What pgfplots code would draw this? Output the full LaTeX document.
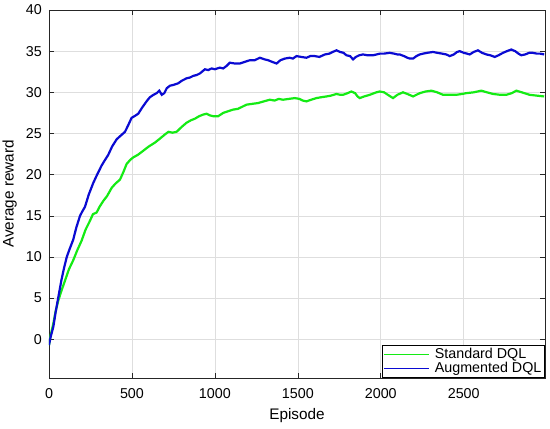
\documentclass[border=0pt]{standalone}
\usepackage{pgfplots}
\pgfplotsset{compat=1.18}
\usepackage{fontspec}
\setmainfont{Liberation Sans}
\definecolor{cgreen}{RGB}{20,235,20}
\definecolor{cblue}{RGB}{10,10,210}
\definecolor{axgray}{RGB}{38,38,38}
\begin{document}
\begin{tikzpicture}
\begin{axis}[
  name=ax,
  scale only axis,
  width=496bp, height=368bp,
  xmin=0, xmax=2990, ymin=-4.7, ymax=40,
  xtick={0,500,1000,1500,2000,2500},
  ytick={0,5,10,15,20,25,30,35,40},
  xtick pos=both, ytick pos=both,
  tick align=inside,
  major tick length=5bp,
  grid=major,
  grid style={color=black!13, line width=0.6bp},
  axis line style={color=axgray, line width=0.8bp},
  tick style={color=axgray, line width=0.6bp},
  /pgf/number format/assume math mode=true,
  /pgf/number format/1000 sep={},
  ticklabel style={font=\fontsize{14.3bp}{17bp}\selectfont, text=black},
  xticklabel style={inner sep=0pt, anchor=north, yshift=-10bp},
  yticklabel style={inner sep=0pt, anchor=east, xshift=-7bp},
  xlabel={Episode},
  ylabel={Average reward},
  label style={font=\fontsize{15.3bp}{18bp}\selectfont},
  xlabel style={at={(axis description cs:0.5,0)}, anchor=north, inner sep=0pt, yshift=-30bp},
  ylabel style={at={(axis description cs:-0.0645,0.5)}, anchor=south, inner sep=0pt},
  legend style={at={(1,0)}, anchor=south east, draw=black, line width=0.6bp,
    font=\fontsize{14.3bp}{17bp}\selectfont, inner sep=1.5bp, row sep=-1.5bp,
    nodes={inner sep=1.8bp}},
  legend cell align=left,
  legend image code/.code={\draw[#1, line width=1.1bp] (0bp,0bp) -- (45bp,0bp); \path (48bp,0bp);},
]
\addplot[cgreen, line width=2.2bp] coordinates {
(0,-0.7) (10,0.5) (26,1.9) (40,3.4) (56,4.7) (75,5.9) (96,7.1) (120,8.5) (146,9.6) (170,10.8)
(197,12.0) (220,13.3) (247,14.4) (265,15.2) (287,15.4) (305,16.1) (327,16.8) (350,17.4) (378,18.4) (400,18.9)
(428,19.4) (448,20.3) (468,21.3) (490,21.8) (508,22.1) (535,22.4) (568,22.9) (600,23.4) (639,23.9) (670,24.4)
(700,24.9) (720,25.2) (745,25.1) (769,25.2) (800,25.8) (829,26.3) (855,26.6) (880,26.8) (905,27.1) (930,27.3)
(950,27.4) (970,27.2) (990,27.1) (1020,27.1) (1050,27.5) (1080,27.7) (1110,27.9) (1140,28.0) (1170,28.3) (1191,28.5)
(1225,28.6) (1261,28.7) (1295,28.9) (1331,29.1) (1360,29.0) (1385,29.2) (1411,29.1) (1445,29.2) (1482,29.3) (1510,29.2)
(1530,29.0) (1552,28.9) (1580,29.1) (1612,29.3) (1640,29.4) (1673,29.5) (1700,29.6) (1733,29.8) (1755,29.7) (1773,29.7)
(1800,29.9) (1823,30.1) (1845,29.9) (1860,29.5) (1873,29.3) (1900,29.5) (1934,29.7) (1960,29.9) (1974,30.0) (1994,30.1)
(2020,30.0) (2050,29.6) (2074,29.3) (2100,29.7) (2134,30.0) (2160,29.8) (2195,29.5) (2215,29.7) (2235,29.9) (2270,30.1)
(2305,30.2) (2340,30.0) (2375,29.7) (2410,29.7) (2456,29.7) (2490,29.8) (2516,29.9) (2560,30.0) (2606,30.2) (2640,30.0)
(2677,29.8) (2720,29.7) (2757,29.7) (2790,29.9) (2817,30.2) (2850,30.0) (2897,29.7) (2940,29.6) (2985,29.5)
};
\addlegendentry{Standard DQL}
\addplot[cblue, line width=2.2bp] coordinates {
(0,-0.7) (10,0.3) (26,1.5) (40,3.3) (56,5.1) (75,7.2) (90,8.6) (107,10.0) (125,11.0) (146,12.1)
(165,13.6) (187,15.0) (200,15.5) (217,16.1) (240,17.6) (267,19.0) (290,20.0) (317,21.1) (335,21.7) (357,22.4)
(380,23.4) (408,24.3) (430,24.7) (458,25.2) (475,25.9) (498,26.9) (515,27.1) (538,27.4) (560,28.1) (588,28.9)
(608,29.4) (630,29.7) (649,29.9) (665,30.2) (680,29.7) (695,29.9) (710,30.5) (729,30.8) (750,30.9) (779,31.1)
(800,31.4) (829,31.7) (850,31.8) (870,32.0) (890,32.1) (910,32.3) (940,32.8) (960,32.7) (980,32.9) (1000,32.8)
(1030,33.0) (1050,32.9) (1070,33.2) (1090,33.6) (1120,33.5) (1151,33.5) (1180,33.7) (1211,33.9) (1240,33.9) (1271,34.2)
(1300,34.0) (1321,33.9) (1345,33.7) (1372,33.5) (1395,33.9) (1422,34.1) (1450,34.2) (1470,34.1) (1492,34.4) (1520,34.3)
(1552,34.2) (1575,34.4) (1602,34.4) (1630,34.3) (1663,34.6) (1690,34.7) (1710,34.9) (1733,35.1) (1755,34.9) (1775,34.8)
(1793,34.5) (1815,34.4) (1833,34.0) (1850,34.3) (1870,34.5) (1893,34.6) (1920,34.5) (1953,34.5) (1975,34.6) (1994,34.7)
(2020,34.7) (2054,34.8) (2080,34.7) (2100,34.6) (2114,34.6) (2140,34.4) (2160,34.2) (2175,34.1) (2195,34.1) (2215,34.4)
(2235,34.6) (2255,34.7) (2280,34.8) (2315,34.9) (2340,34.8) (2370,34.7) (2395,34.6) (2416,34.4) (2440,34.6) (2460,34.9)
(2476,35.0) (2500,34.8) (2520,34.7) (2536,34.6) (2560,34.9) (2586,35.1) (2610,34.8) (2637,34.6) (2660,34.5) (2687,34.3)
(2710,34.5) (2737,34.8) (2760,35.0) (2787,35.2) (2810,35.0) (2830,34.7) (2847,34.5) (2870,34.6) (2895,34.8) (2917,34.8)
(2940,34.7) (2960,34.7) (2985,34.6)
};
\addlegendentry{Augmented DQL}
\end{axis}
\path (ax.south west) ++(-49bp,-51bp);
\path (ax.north east) ++(5bp,10bp);
\end{tikzpicture}
\end{document}
